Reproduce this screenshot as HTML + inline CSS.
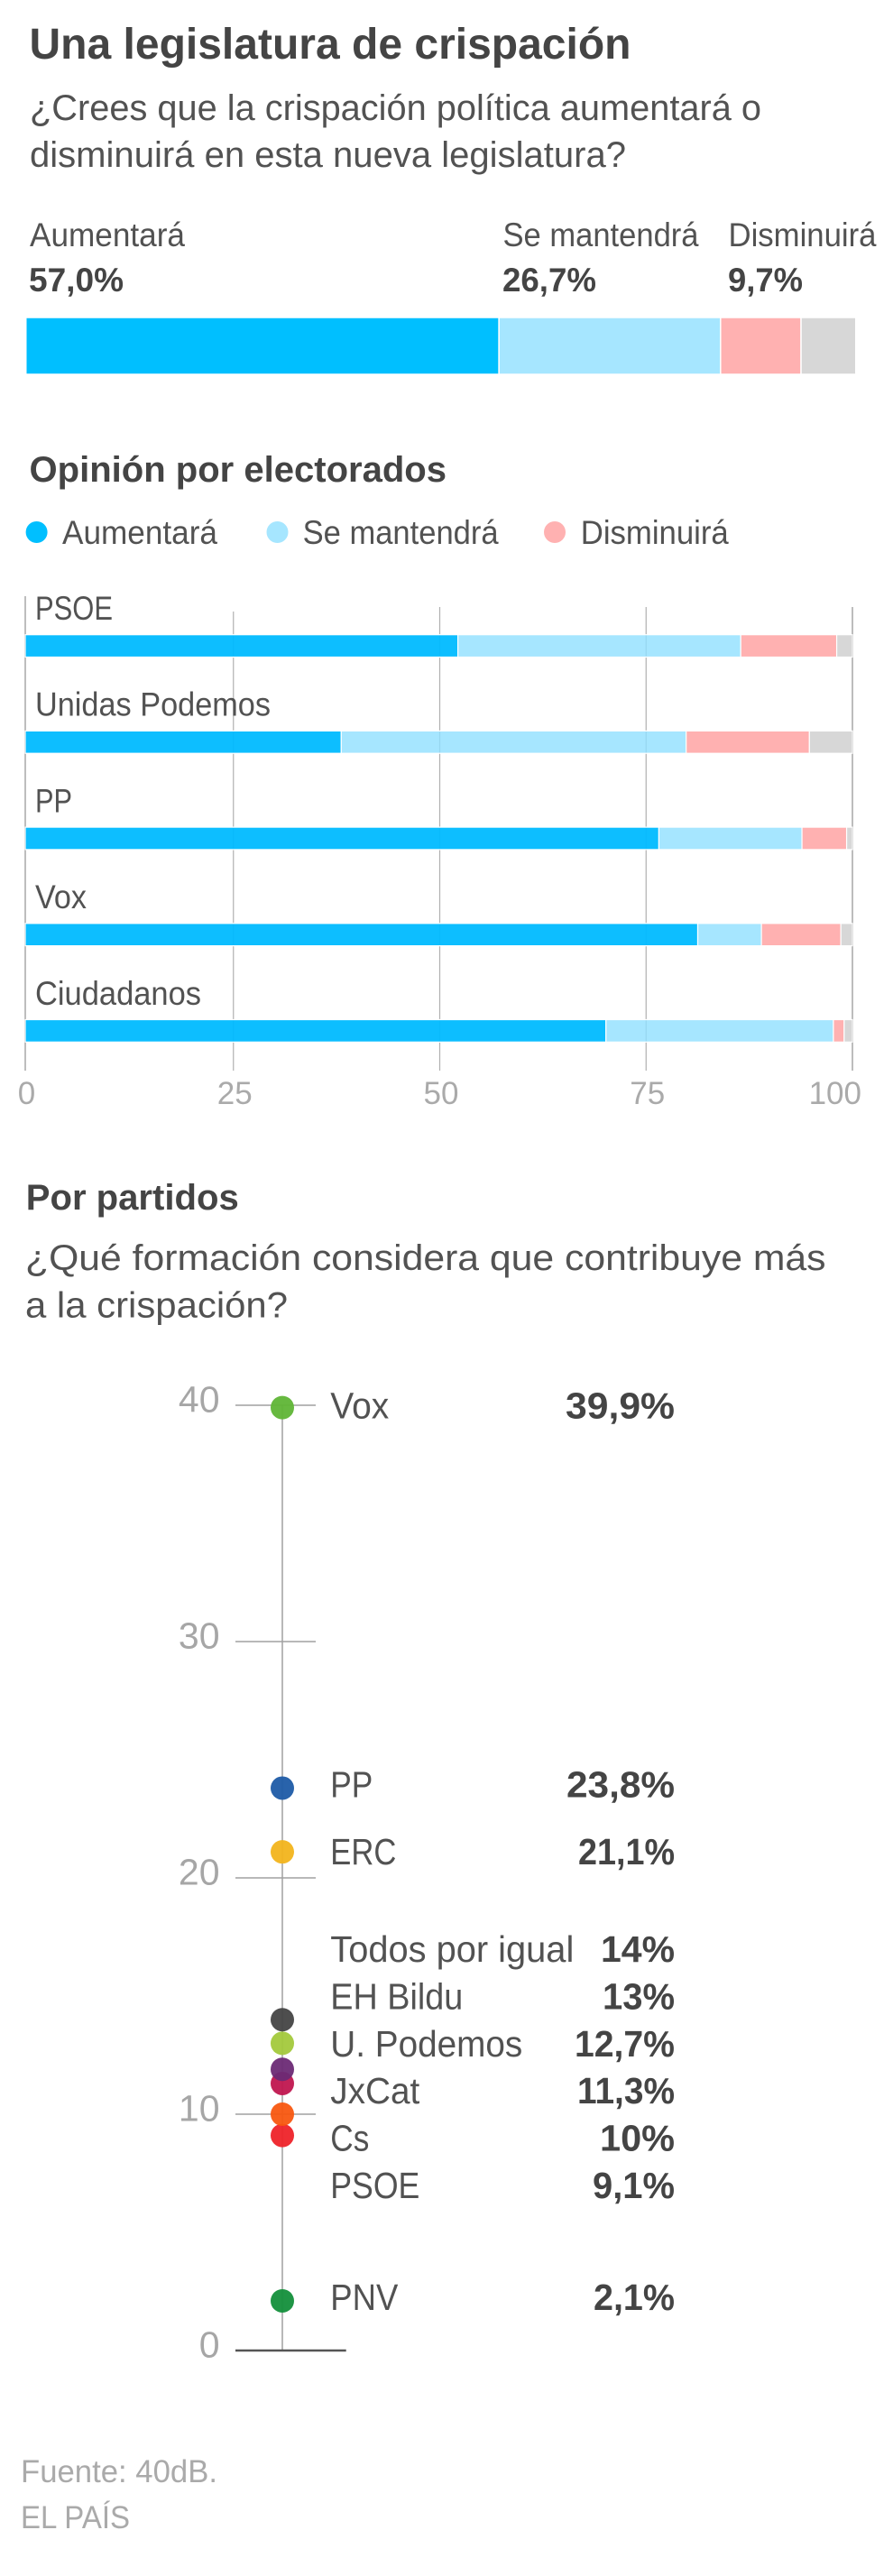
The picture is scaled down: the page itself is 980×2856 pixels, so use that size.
<!DOCTYPE html>
<html lang="es">
<head>
<meta charset="utf-8">
<title>Una legislatura de crispación</title>
<style>
html,body{margin:0;padding:0;background:#fff;}
svg{display:block;}
text{font-family:"Liberation Sans",sans-serif;fill:#525252;}
.b{font-weight:700;fill:#444;}
.t{font-size:48px;}
.h{font-size:40px;}
.q{font-size:40px;}
.l{font-size:37px;}
.axis{font-size:35px;fill:#aaa;}
.yaxis{font-size:41px;fill:#a6a6a6;}
.pl{font-size:41px;}
.pv{font-size:41px;}
.foot{font-size:35px;fill:#aaa;}
</style>
</head>
<body>
<svg id="root" xmlns="http://www.w3.org/2000/svg" width="980" height="2856" viewBox="0 0 980 2856">
  <rect x="0" y="0" width="980" height="2856" fill="#fff"/>

  <text class="b t" x="32.5" y="65" textLength="667" lengthAdjust="spacingAndGlyphs">Una legislatura de crispación</text>
  <text class="q" x="33" y="133" textLength="811" lengthAdjust="spacingAndGlyphs">¿Crees que la crispación política aumentará o</text>
  <text class="q" x="33" y="185" textLength="661" lengthAdjust="spacingAndGlyphs">disminuirá en esta nueva legislatura?</text>

  <text class="l" x="33" y="273" textLength="172" lengthAdjust="spacingAndGlyphs">Aumentará</text>
  <text class="l" x="557.5" y="273" textLength="217" lengthAdjust="spacingAndGlyphs">Se mantendrá</text>
  <text class="l" x="807.5" y="273" textLength="164" lengthAdjust="spacingAndGlyphs">Disminuirá</text>
  <text class="b l" x="32" y="323" textLength="105" lengthAdjust="spacingAndGlyphs">57,0%</text>
  <text class="b l" x="557" y="323" textLength="104" lengthAdjust="spacingAndGlyphs">26,7%</text>
  <text class="b l" x="807" y="323" textLength="83" lengthAdjust="spacingAndGlyphs">9,7%</text>

  <g id="overall-bar"></g>

  <text class="b h" x="32.5" y="534" textLength="462.5" lengthAdjust="spacingAndGlyphs">Opinión por electorados</text>

  <g>
    <g>
      <circle cx="40.6" cy="590" r="12" fill="#00bfff"/>
      <text class="l" x="69" y="603" textLength="172" lengthAdjust="spacingAndGlyphs">Aumentará</text>
    </g>
    <g>
      <circle cx="307.5" cy="590" r="12" fill="#a6e6ff"/>
      <text class="l" x="335.6" y="603" textLength="217" lengthAdjust="spacingAndGlyphs">Se mantendrá</text>
    </g>
    <g>
      <circle cx="615" cy="590" r="12" fill="#ffb1b1"/>
      <text class="l" x="643.75" y="603" textLength="164" lengthAdjust="spacingAndGlyphs">Disminuirá</text>
    </g>
  </g>

  <g id="electorate-chart"></g>

  <text class="b h" x="28.75" y="1341" textLength="236" lengthAdjust="spacingAndGlyphs">Por partidos</text>
  <text class="q" x="28" y="1408" textLength="887.5" lengthAdjust="spacingAndGlyphs">¿Qué formación considera que contribuye más</text>
  <text class="q" x="28" y="1460.5" textLength="291" lengthAdjust="spacingAndGlyphs">a la crispación?</text>

  <g id="party-chart"></g>

  <text class="foot" x="23" y="2752" textLength="218" lengthAdjust="spacingAndGlyphs">Fuente: 40dB.</text>
  <text class="foot" x="23" y="2803" textLength="121" lengthAdjust="spacingAndGlyphs">EL PAÍS</text>
</svg>

<script>
// ---- Overall bar data ----
const overallCategories = ["Aumentará", "Se mantendrá", "Disminuirá", "NS/NC"];
const overallValues = [57.0, 26.7, 9.7, 6.6];

// ---- Electorate chart data ----
const electorates = ["PSOE", "Unidas Podemos", "PP", "Vox", "Ciudadanos"];
const aumentara = [52.3, 38.2, 76.6, 81.3, 70.2];
const seMantendra = [34.2, 41.7, 17.3, 7.7, 27.5];
const disminuira = [11.6, 14.9, 5.4, 9.6, 1.3];
const nsnc = [1.9, 5.2, 0.7, 1.4, 1.0];
const electorateTicks = [0, 25, 50, 75, 100];

// ---- Party chart data ----
const parties = ["Vox", "PP", "ERC", "Todos por igual", "EH Bildu", "U. Podemos", "JxCat", "Cs", "PSOE", "PNV"];
const partyValues = [39.9, 23.8, 21.1, 14.0, 13.0, 11.9, 11.3, 10.0, 9.1, 2.1];
const partyPrinted = ["39,9%", "23,8%", "21,1%", "14%", "13%", "12,7%", "11,3%", "10%", "9,1%", "2,1%"];
const partyTicks = [0, 10, 20, 30, 40];

// ---- Styling lookups (not data) ----
const seriesFill = ["#00bbff", "#90e0ff", "#ff9e9e", "#cdcdcd"];
const seriesOpacity = [0.95, 0.8, 0.8, 0.8];
const partyColor = {"Vox":"#5fb536","PP":"#1e5ba6","ERC":"#f2b41c","Todos por igual":"#454545","EH Bildu":"#a3c93c","U. Podemos":"#6b2a75","JxCat":"#c0164f","Cs":"#f85710","PSOE":"#ee2329","PNV":"#138f3b"};
const electorateFit = {"PSOE":86,"Unidas Podemos":261,"PP":41,"Vox":57,"Ciudadanos":184};
const partyLabelFit = {"Vox":65,"PP":47,"ERC":73,"Todos por igual":270,"EH Bildu":147,"U. Podemos":213,"JxCat":99,"Cs":43,"PSOE":99,"PNV":75};
const partyValueFit = {"39,9%":121,"23,8%":120,"21,1%":107,"14%":82,"13%":80,"12,7%":111,"11,3%":108,"10%":83,"9,1%":91,"2,1%":90};
const labelNudge = {"PP":-2,"ERC":2,"PNV":-2};
const gridTop = {0:661, 25:678, 50:673, 75:673, 100:673};

const NS = "http://www.w3.org/2000/svg";
function make(tag, attrs, parent) {
  const el = document.createElementNS(NS, tag);
  for (const k in attrs) el.setAttribute(k, attrs[k]);
  parent.appendChild(el);
  return el;
}
function slug(s) {
  return s.normalize("NFD").replace(/[\u0300-\u036f]/g, "").toLowerCase().replace(/[^a-z0-9]+/g, "-").replace(/^-|-$/g, "");
}
function fitText(el, width) {
  if (width) {
    el.setAttribute("textLength", width);
    el.setAttribute("lengthAdjust", "spacingAndGlyphs");
  }
}

// ---- Overall stacked bar ----
const overallBar = document.getElementById("overall-bar");
const overallTotal = overallValues.reduce((a, b) => a + b, 0);
function overallX(v) { return 28.75 + 920 * v / overallTotal; }
let overallCum = 0;
overallValues.forEach((v, i) => {
  const x0 = overallX(overallCum);
  const x1 = overallX(overallCum + v);
  const r = make("rect", {x: x0, y: 352, width: x1 - x0, height: 63, fill: ["#00bfff", "#a6e6ff", "#ffb1b1", "#d7d7d7"][i], stroke: "#fff", "stroke-width": 1.5}, overallBar);
  
  
  overallCum += v;
});

// ---- Electorate chart ----
const eChart = document.getElementById("electorate-chart");
function barX(v) { return 28 + 9.17 * v; }
function gridX(v) { return v === 0 ? barX(0) : 30 + 9.15 * v; }
function rowTop(i) { return 704 + 106.7 * i; }
const gridLayer = make("g", {}, eChart);


electorateTicks.forEach(t => {
  const edge = t === 0 || t === 100;
  const line = make("line", {x1: gridX(t), x2: gridX(t), y1: gridTop[t], y2: 1187, stroke: edge ? "#bdbdbd" : "#b0b0b0", "stroke-width": edge ? 2 : 1.2}, gridLayer);
  
  
  const anchor = t === 100 ? "end" : "middle";
  const lx = t === 100 ? 955 : gridX(t) + 1.5;
  const lab = make("text", {class: "axis", x: lx, y: 1224, "text-anchor": anchor}, eChart);
  lab.textContent = t;
  
  
});
electorates.forEach((name, i) => {
  const top = rowTop(i);
  const lab = make("text", {class: "l", x: 39, y: top - 17}, eChart);
  lab.textContent = name;
  fitText(lab, electorateFit[name]);
  
  
  const vals = [aumentara[i], seMantendra[i], disminuira[i], nsnc[i]];
  let cum = 0;
  vals.forEach((v, s) => {
    const x0 = barX(cum);
    const x1 = barX(cum + v);
    const r = make("rect", {x: x0, y: top - 0.3, width: x1 - x0, height: 24.8, fill: seriesFill[s], "fill-opacity": seriesOpacity[s], stroke: "#fff", "stroke-width": 1.2}, eChart);
    
    
    cum += v;
  });
});

// ---- Party dot chart ----
const pChart = document.getElementById("party-chart");
function partyY(v) { return 2606 - 26.2 * v; }
const axisX = 313;
const axisLine = make("line", {x1: axisX, x2: axisX, y1: partyY(40), y2: partyY(0), stroke: "#a0a0a0", "stroke-width": 1.5}, pChart);


partyTicks.forEach(t => {
  const zero = t === 0;
  const tick = make("line", {x1: 261, x2: zero ? 383.7 : 350, y1: partyY(t), y2: partyY(t), stroke: zero ? "#555" : "#a0a0a0", "stroke-width": zero ? 2.4 : 1.5}, pChart);
  
  
  const lab = make("text", {class: "yaxis", x: 243.5, y: partyY(t) + 7.5, "text-anchor": "end"}, pChart);
  lab.textContent = t;
  
  
});
for (let i = parties.length - 1; i >= 0; i--) {
  const dot = make("circle", {cx: axisX, cy: partyY(partyValues[i]), r: 13, fill: partyColor[parties[i]], "fill-opacity": 0.95}, pChart);
  
  
}
// Labels: isolated points sit next to their dot; the crowded middle group is stacked evenly around its mean.
const clusterIdx = [3, 4, 5, 6, 7, 8];
const clusterMean = clusterIdx.reduce((a, i) => a + partyY(partyValues[i]), 0) / clusterIdx.length;
parties.forEach((name, i) => {
  const pos = clusterIdx.indexOf(i);
  const y = pos >= 0 ? clusterMean + 2.6 + (pos - 2.5) * 52.4 : partyY(partyValues[i]) + 12 + (labelNudge[name] || 0);
  const lab = make("text", {class: "pl", x: 366.3, y: y}, pChart);
  lab.textContent = name;
  fitText(lab, partyLabelFit[name]);
  
  
  const val = make("text", {class: "b pv", x: 748, y: y, "text-anchor": "end"}, pChart);
  val.textContent = partyPrinted[i];
  fitText(val, partyValueFit[partyPrinted[i]]);
  
  
});
</script>
</body>
</html>
